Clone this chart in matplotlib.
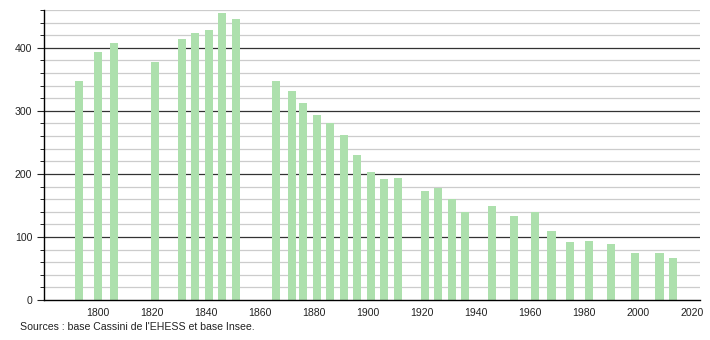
import matplotlib.pyplot as plt
from matplotlib.ticker import MultipleLocator

years = [1793, 1800, 1806, 1821, 1831, 1836, 1841, 1846, 1851,
         1866, 1872, 1876, 1881, 1886, 1891, 1896, 1901, 1906, 1911,
         1921, 1926, 1931, 1936, 1946, 1954, 1962, 1968, 1975, 1982,
         1990, 1999, 2008, 2013]
population = [348, 393, 407, 378, 414, 424, 428, 456, 446,
              348, 332, 312, 294, 281, 262, 230, 203, 192, 194,
              173, 178, 160, 139, 149, 134, 139, 110, 92, 94,
              89, 75, 75, 67]

plt.rcParams['font.family'] = ['Liberation Sans', 'DejaVu Sans']

fig = plt.figure(figsize=(7.1, 3.4), dpi=100)
ax = fig.add_axes([44 / 710, 40 / 340, 656 / 710, 290 / 340])

# grid: light every 20, dark every 100
for v in range(20, 461, 20):
    if v % 100 == 0:
        ax.axhline(v, color='#333333', lw=0.9, zorder=1)
    else:
        ax.axhline(v, color='#cccccc', lw=0.9, zorder=1)

ax.bar(years, population, width=3, color='#ade0ad', zorder=2)

ax.set_xlim(1780, 2023)
ax.set_ylim(0, 460)
ax.yaxis.set_major_locator(MultipleLocator(100))
ax.yaxis.set_minor_locator(MultipleLocator(20))
ax.tick_params(axis='x', length=0, labelsize=7.6, pad=6, colors='#222222')
ax.tick_params(axis='y', which='major', length=5, labelsize=7.6, colors='#222222')
ax.tick_params(axis='y', which='minor', length=3)
ax.set_xticks(range(1800, 2021, 20))

for s in ['top', 'right']:
    ax.spines[s].set_visible(False)
ax.spines['left'].set_linewidth(1)
ax.spines['bottom'].set_linewidth(1)

fig.text(20 / 710, 1 - 327 / 340, "Sources : base Cassini de l'EHESS et base Insee.",
         fontsize=7.6, va='center', ha='left', color='#222222')

fig.savefig('out.png', dpi=100)
